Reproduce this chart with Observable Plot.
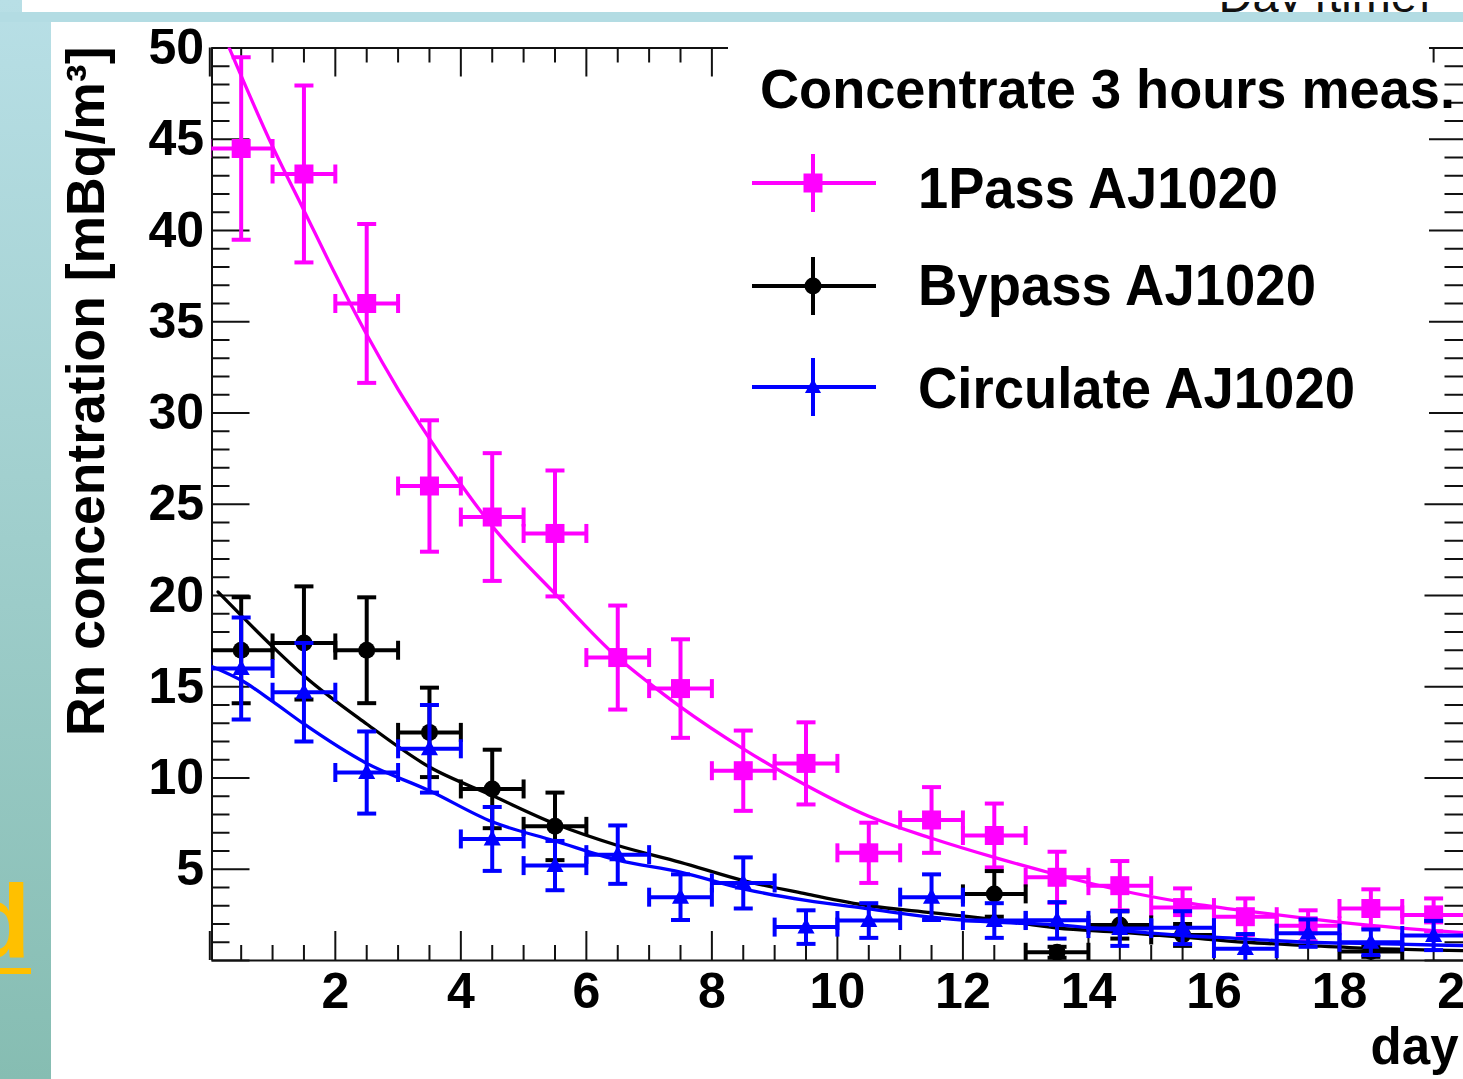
<!DOCTYPE html>
<html>
<head>
<meta charset="utf-8">
<script src="https://cdn.jsdelivr.net/npm/d3@7"></script>
<script src="https://cdn.jsdelivr.net/npm/@observablehq/plot@0.6"></script>
<style>
html, body { margin: 0; padding: 0; background: #fff; overflow: hidden; width: 1463px; height: 1079px; }
#root { position: relative; width: 1463px; height: 1079px; font-family: "Liberation Sans", Arial, Helvetica, sans-serif; }
#strip { position: absolute; left: 0; top: 0; width: 51px; height: 1079px; background: linear-gradient(#b8dfe6, #86bdb2); }
#topwhite { position: absolute; left: 22px; top: 0; width: 1441px; height: 12px; background: #fff; overflow: hidden; }
#band { position: absolute; left: 0; top: 12px; width: 1463px; height: 10px; background: #b3dce3; }
#plot { position: absolute; left: 0; top: 0; }
#overlay { position: absolute; left: 0; top: 0; }
</style>
</head>
<body>
<div id="root">
  <div id="strip"></div>
  <div id="band"></div>
  <div id="topwhite"><svg width="1441" height="12"><text x="1408" y="10" text-anchor="end" font-size="47" fill="#111" font-family="Liberation Sans, Arial, sans-serif">Day [time]</text></svg></div>
  <div id="plot"></div>
  <svg id="overlay" width="1463" height="1079"></svg>
</div>
<script>
// ---------------- data ----------------
const days = [0.5, 1.5, 2.5, 3.5, 4.5, 5.5, 6.5, 7.5, 8.5, 9.5, 10.5, 11.5, 12.5, 13.5, 14.5, 15.5, 16.5, 17.5, 18.5, 19.5];
const halfBin = 0.5;

const pass1    = [44.5, 43.1, 36.0, 26.0, 24.3, 23.4, 16.6, 14.9, 10.4, 10.8, 5.9, 7.7, 6.85, 4.56, 4.1, 2.9, 2.4, 1.9, 2.85, 2.5];
const pass1Err = [5.0, 4.85, 4.35, 3.6, 3.5, 3.45, 2.85, 2.7, 2.2, 2.25, 1.65, 1.8, 1.75, 1.4, 1.35, 1.05, 1.0, 0.85, 1.05, 0.9];

const bypass    = [17.0, 17.4, 17.0, 12.5, 9.4, 7.35, null, null, null, null, null, null, 3.65, 0.45, 1.95, 1.4, null, null, 0.5, null];
const bypassErr = [2.9, 3.1, 2.9, 2.45, 2.15, 1.85, null, null, null, null, null, null, 1.25, 0.3, 0.75, 0.6, null, null, 0.3, null];

const circ    = [16.0, 14.7, 10.3, 11.6, 6.66, 5.2, 5.8, 3.47, 4.25, 1.83, 2.19, 3.47, 2.19, 2.2, 1.75, 1.8, 0.65, 1.5, 1.0, 1.37];
const circErr = [2.8, 2.7, 2.25, 2.4, 1.75, 1.35, 1.6, 1.25, 1.4, 0.92, 0.95, 1.25, 0.95, 1.0, 0.95, 0.9, 0.8, 0.75, 0.7, 0.8];

// fitted curves
const fitPass1Day = [0.31, 1.0, 1.5, 2.0, 2.5, 3.0, 3.5, 4.0, 4.5, 5.5, 6.5, 7.0, 7.5, 8.5, 9.5, 10.5, 11.5, 12.5, 13.5, 14.5, 15.5, 16.5, 17.5, 18.5, 19.5, 20];
const fitPass1Val = [50, 44.6, 41.1, 37.6, 34.3, 31.3, 28.6, 26.1, 23.8, 20.1, 16.6, 15.2, 13.9, 11.6, 9.6, 7.9, 6.7, 5.65, 4.7, 3.85, 3.2, 2.72, 2.3, 1.93, 1.64, 1.52];
const fitBypassDay = [0.13, 0.53, 1.0, 1.5, 2.5, 3.5, 4.5, 5.5, 6.5, 7.5, 8.5, 9.5, 10.5, 11.5, 12.5, 13.5, 14.5, 15.5, 16.5, 17.5, 18.5, 19.5, 20];
const fitBypassVal = [20.2, 18.8, 17.2, 15.6, 12.96, 10.6, 9.04, 7.49, 6.3, 5.38, 4.38, 3.65, 3.0, 2.62, 2.25, 1.78, 1.55, 1.28, 1.0, 0.82, 0.66, 0.57, 0.54];
const fitCircDay = [0.04, 0.53, 1.0, 1.5, 2.5, 3.5, 4.5, 5.5, 6.5, 7.5, 8.5, 9.5, 10.5, 11.5, 12.5, 13.5, 14.5, 15.5, 16.5, 17.5, 18.5, 19.5, 20];
const fitCircVal = [16.1, 15.3, 14.2, 12.96, 10.8, 9.3, 7.6, 6.55, 5.5, 4.84, 3.93, 3.29, 2.83, 2.37, 2.1, 1.95, 1.64, 1.37, 1.19, 1.0, 0.93, 0.85, 0.82];

const seriesNames = ["1Pass AJ1020", "Bypass AJ1020", "Circulate AJ1020"];
const legendTitle = "Concentrate 3 hours meas.";
const yLabel = "Rn concentration [mBq/m\u00B3]";
const xLabel = "day";
const xTickLabels = [2, 4, 6, 8, 10, 12, 14, 16, 18, 20];
const yTickLabels = [5, 10, 15, 20, 25, 30, 35, 40, 45, 50];

// ---------------- styling ----------------
const colors = ["#ff00ff", "#000000", "#0000ff"];
const FONT = "Liberation Sans, Arial, Helvetica, sans-serif";
const X0 = 0.035, X1 = 20, Y0 = 0, Y1 = 50;
const xRange = [211.5, 1464.5], yRange = [960, 47.5];
const dPerPxX = (X1 - X0) / (xRange[1] - xRange[0]);
const dPerPxY = (Y1 - Y0) / (yRange[0] - yRange[1]);

const squareSym = {draw(ctx, size) { const r = Math.sqrt(size / Math.PI); ctx.rect(-r, -r, 2 * r, 2 * r); }};
const triSym = {draw(ctx, size) { const r = Math.sqrt(size / Math.PI); ctx.moveTo(0, -r); ctx.lineTo(r * 0.95, r * 0.72); ctx.lineTo(-r * 0.95, r * 0.72); ctx.closePath(); }};
const hCap = {draw(ctx, size) { const r = Math.sqrt(size / Math.PI); ctx.moveTo(-r, 0); ctx.lineTo(r, 0); }};
const vCap = {draw(ctx, size) { const r = Math.sqrt(size / Math.PI); ctx.moveTo(0, -r); ctx.lineTo(0, r); }};
const markerSyms = [squareSym, "circle", triSym];
const markerR = [9.5, 8.5, 9];

function rowsOf(vals, errs, k) {
  return days.map((d, i) => ({day: d, y: vals[i], err: errs[i], k})).filter(r => r.y != null);
}
const dataSets = [rowsOf(pass1, pass1Err, 0), rowsOf(bypass, bypassErr, 1), rowsOf(circ, circErr, 2)];
const fits = [
  fitPass1Day.map((d, i) => ({day: d, y: fitPass1Val[i]})),
  fitBypassDay.map((d, i) => ({day: d, y: fitBypassVal[i]})),
  fitCircDay.map((d, i) => ({day: d, y: fitCircVal[i]}))
];

const SW = 4;
function seriesMarks(k) {
  const rows = dataSets[k], c = colors[k];
  return [
    Plot.ruleX(rows, {x: "day", y1: d => d.y - d.err, y2: d => d.y + d.err, stroke: c, strokeWidth: SW, clip: true}),
    Plot.ruleY(rows, {y: "y", x1: d => d.day - halfBin, x2: d => d.day + halfBin, stroke: c, strokeWidth: SW, clip: true}),
    Plot.dot(rows, {x: "day", y: d => d.y + d.err, symbol: hCap, r: 9.5, stroke: c, strokeWidth: SW, clip: true}),
    Plot.dot(rows, {x: "day", y: d => d.y - d.err, symbol: hCap, r: 9.5, stroke: c, strokeWidth: SW, clip: true}),
    Plot.dot(rows, {x: d => d.day - halfBin, y: "y", symbol: vCap, r: 9.5, stroke: c, strokeWidth: SW, clip: true}),
    Plot.dot(rows, {x: d => d.day + halfBin, y: "y", symbol: vCap, r: 9.5, stroke: c, strokeWidth: SW, clip: true}),
    Plot.dot(rows, {x: "day", y: "y", symbol: markerSyms[k], r: markerR[k], fill: c, stroke: "none", clip: true}),
    Plot.line(fits[k], {x: "day", y: "y", stroke: c, strokeWidth: 3.3, curve: "monotone-x", clip: true})
  ];
}

// ticks (ROOT style, inside the frame)
const xMajor = d3.range(0, 21, 2);
const xMinor = d3.range(0.5, 20, 0.5).filter(v => v % 2 !== 0);
const yMajor = d3.range(0, 51, 5);
const yMinor = d3.range(1, 50, 1).filter(v => v % 5 !== 0);
const xMajLen = 29 * dPerPxY, xMinLen = 15 * dPerPxY;
const yMajLen = 38 * dPerPxX, yMinLen = 18 * dPerPxX;
const yMajLenR = 40 * dPerPxX, yMinLenR = 20 * dPerPxX;
const axStroke = "#111", tw = 2;

const tickMarks = [
  Plot.ruleX(xMajor, {x: d => d, y1: Y0, y2: Y0 + xMajLen, stroke: axStroke, strokeWidth: tw}),
  Plot.ruleX(xMinor, {x: d => d, y1: Y0, y2: Y0 + xMinLen, stroke: axStroke, strokeWidth: tw}),
  Plot.ruleX(xMajor, {x: d => d, y1: Y1, y2: Y1 - xMajLen, stroke: axStroke, strokeWidth: tw}),
  Plot.ruleX(xMinor, {x: d => d, y1: Y1, y2: Y1 - xMinLen, stroke: axStroke, strokeWidth: tw}),
  Plot.ruleY(yMajor, {y: d => d, x1: X0, x2: X0 + yMajLen, stroke: axStroke, strokeWidth: tw}),
  Plot.ruleY(yMinor, {y: d => d, x1: X0, x2: X0 + yMinLen, stroke: axStroke, strokeWidth: tw}),
  Plot.ruleY(yMajor, {y: d => d, x1: X1, x2: X1 - yMajLenR, stroke: axStroke, strokeWidth: tw}),
  Plot.ruleY(yMinor, {y: d => d, x1: X1, x2: X1 - yMinLenR, stroke: axStroke, strokeWidth: tw}),
  Plot.ruleX([X0, X1], {y1: Y0, y2: Y1, stroke: axStroke, strokeWidth: 2}),
  Plot.ruleY([Y0, Y1], {x1: X0, x2: X1, stroke: axStroke, strokeWidth: 2})
];

const chart = Plot.plot({
  width: 1463,
  height: 1079,
  marginLeft: 211.5,
  marginRight: 0,
  marginTop: 47.5,
  marginBottom: 119,
  style: {background: "transparent", fontFamily: FONT, overflow: "hidden"},
  x: {domain: [X0, X1], range: xRange},
  y: {domain: [Y0, Y1], range: yRange},
  marks: [
    ...tickMarks,
    Plot.axisX({ticks: xTickLabels, tickSize: 0, tickPadding: 12, fontSize: 50, fontWeight: "bold", fill: "#000", label: null}),
    Plot.axisY({ticks: yTickLabels, tickSize: 0, tickPadding: 8, fontSize: 50, fontWeight: "bold", fill: "#000", label: null}),
    Plot.text([yLabel], {frameAnchor: "top-left", rotate: -90, textAnchor: "end", dx: -146, dy: -1.5, fontSize: 53.5, fontWeight: "bold", fill: "#000"}),
    Plot.text([xLabel], {frameAnchor: "bottom-right", textAnchor: "end", lineAnchor: "top", dx: -5, dy: 67, fontSize: 51, fontWeight: "bold", fill: "#000"}),
    ...seriesMarks(0),
    ...seriesMarks(1),
    ...seriesMarks(2)
  ]
});
document.getElementById("plot").appendChild(chart);

// ---------------- legend + decorations overlay ----------------
const ov = d3.select("#overlay");
// yellow glyph on the left strip (cut off by the page, as in the original slide)
ov.append("text").attr("x", -33).attr("y", 957).attr("font-size", 104).attr("font-weight", "bold")
  .attr("font-family", FONT).attr("fill", "#ffc000").text("d");
ov.append("rect").attr("x", 0).attr("y", 968).attr("width", 31).attr("height", 6).attr("fill", "#ffc000");

const lg = ov.append("g").attr("font-family", FONT).attr("font-weight", "bold");
lg.append("rect").attr("x", 728).attr("y", 40).attr("width", 701).attr("height", 378).attr("fill", "#fff");
lg.append("text").attr("x", 760).attr("y", 108).attr("font-size", 56).attr("textLength", 695)
  .attr("lengthAdjust", "spacingAndGlyphs").attr("fill", "#000").text(legendTitle);
const entryY = [183, 286, 387], entryBase = [208, 305, 408], entryW = [360, 398, 437];
const symGen = [d3.symbol(squareSym, Math.PI * 9.5 * 9.5), d3.symbol(d3.symbolCircle, Math.PI * 8.5 * 8.5), d3.symbol(triSym, Math.PI * 8.5 * 8.5)];
seriesNames.forEach((name, k) => {
  const cy = entryY[k], c = colors[k];
  lg.append("line").attr("x1", 752).attr("x2", 876).attr("y1", cy).attr("y2", cy).attr("stroke", c).attr("stroke-width", SW);
  lg.append("line").attr("x1", 813).attr("x2", 813).attr("y1", cy - 29).attr("y2", cy + 29).attr("stroke", c).attr("stroke-width", SW);
  lg.append("path").attr("d", symGen[k]()).attr("transform", `translate(813,${cy})`).attr("fill", c);
  lg.append("text").attr("x", 918).attr("y", entryBase[k]).attr("font-size", 58).attr("textLength", entryW[k])
    .attr("lengthAdjust", "spacingAndGlyphs").attr("fill", "#000").text(name);
});
</script>
</body>
</html>
